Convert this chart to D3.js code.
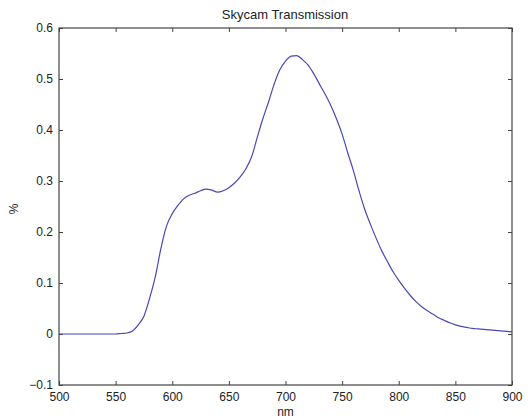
<!DOCTYPE html>
<html><head><meta charset="utf-8">
<script src="https://cdn.jsdelivr.net/npm/d3@7"></script>
<style>body{margin:0;background:#fff}svg{display:block}text{font-family:"Liberation Sans",Arial,sans-serif}</style>
</head><body><svg id="c" width="528" height="419"></svg>
<script>
const wavelengths = d3.range(500, 905, 5);
const transmission = [
0,0,0,0,0,0,0,0,0,0,0, // 500-550
0.001,0.002,0.006,0.018,0.035,0.07,0.112,0.168,0.212, // 555-595
0.236,0.252,0.265,0.272,0.276,0.281,0.284,0.282,0.278,0.281, // 600-645
0.287,0.296,0.308,0.324,0.347,0.385,0.422,0.455,0.49,0.518, // 650-695
0.535,0.545,0.546,0.538,0.527,0.51,0.49,0.47,0.448,0.422, // 700-745
0.392,0.355,0.32,0.28,0.244,0.215,0.188,0.163,0.142,0.122, // 750-795
0.105,0.09,0.076,0.064,0.054,0.046,0.039,0.032,0.027,0.022, // 800-845
0.018,0.015,0.013,0.011,0.01,0.009,0.008,0.007,0.006,0.005, // 850-895
0.004 // 900
];
const xTicks = [500,550,600,650,700,750,800,850,900];
const yTicks = [-0.1,0,0.1,0.2,0.3,0.4,0.5,0.6];
const title = "Skycam Transmission", xLabel = "nm", yLabel = "%";

const L=59,R=512,T=28,B=385;
const svg=d3.select("#c");
const x=d3.scaleLinear().domain([500,900]).range([L,R]);
const y=d3.scaleLinear().domain([-0.1,0.6]).range([B,T]);
const axisColor="#444";
const fmt=d=>d3.format("")(+d.toFixed(1));
function style(g){g.select(".domain").remove();g.selectAll("line").attr("stroke",axisColor);g.selectAll("text").attr("fill","#222").style("font-size","12px");}
svg.append("g").attr("transform",`translate(0,${B})`).call(d3.axisTop(x).tickValues(xTicks).tickSize(4).tickFormat("")).call(style);
svg.append("g").attr("transform",`translate(0,${B})`).call(d3.axisBottom(x).tickValues(xTicks).tickSize(0).tickPadding(7)).call(style);
svg.append("g").attr("transform",`translate(0,${T})`).call(d3.axisBottom(x).tickValues(xTicks).tickSize(4).tickFormat("")).call(style);
svg.append("g").attr("transform",`translate(${L},0)`).call(d3.axisRight(y).tickValues(yTicks).tickSize(4).tickFormat("")).call(style);
svg.append("g").attr("transform",`translate(${L},0)`).call(d3.axisLeft(y).tickValues(yTicks).tickSize(0).tickPadding(6).tickFormat(fmt)).call(style);
svg.append("g").attr("transform",`translate(${R},0)`).call(d3.axisLeft(y).tickValues(yTicks).tickSize(4).tickFormat("")).call(style);
svg.append("rect").attr("x",L).attr("y",T).attr("width",R-L).attr("height",B-T).attr("fill","none").attr("stroke",axisColor).attr("stroke-width",1.2);
const line=d3.line().x((d,i)=>x(wavelengths[i])).y(d=>y(d)).curve(d3.curveMonotoneX);
svg.append("path").datum(transmission).attr("d",line).attr("fill","none").attr("stroke","#4848b8").attr("stroke-width",1.2);
svg.append("text").attr("x",285).attr("y",19).attr("text-anchor","middle").style("font-size","13px").attr("fill","#222").text(title);
svg.append("text").attr("x",(L+R)/2).attr("y",416).attr("text-anchor","middle").style("font-size","12px").attr("fill","#222").text(xLabel);
svg.append("text").attr("transform",`translate(18,209) rotate(-90)`).attr("text-anchor","middle").style("font-size","12px").attr("fill","#222").text(yLabel);
</script></body></html>
